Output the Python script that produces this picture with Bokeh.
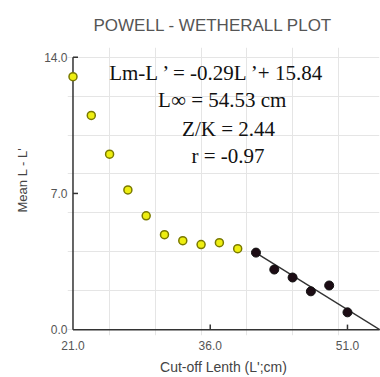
import math
from bokeh.plotting import figure
from bokeh.models import Range1d, FixedTicker, NumeralTickFormatter, Label, Title, LinearAxis
from bokeh.embed import file_html
from bokeh.resources import INLINE

# Data
yellow_x = [21, 23, 25, 27, 29, 31, 33, 35, 37, 39]
yellow_y = [13.0, 11.01, 9.02, 7.18, 5.85, 4.88, 4.57, 4.37, 4.47, 4.16]
black_x = [41, 43, 45, 47, 49, 51]
black_y = [3.96, 3.09, 2.68, 1.97, 2.27, 0.89]
fit_x = [41.0, 54.53]
fit_y = [3.95, 0.0]
x_ticks = [21, 36, 51]
y_ticks = [0, 7, 14]
x_min, x_max = 21, 54.5
y_min, y_max = 0, 14
title_text = "POWELL - WETHERALL PLOT"
x_title = "Cut-off Lenth (L';cm)"
y_title = "Mean L - L'"
annot_lines = ["Lm-L\u2009\u2019 = -0.29L\u2009\u2019+ 15.84",
               "L\u221e = 54.53 cm",
               "Z/K = 2.44",
               "r = -0.97"]

p = figure(width=380, height=377, output_backend="svg", toolbar_location=None,
           x_range=Range1d(20.4, 54.5), y_range=Range1d(-0.3, 14.5),
           x_axis_location=None, y_axis_location=None,
           min_border_left=66, min_border_right=1, min_border_top=47, min_border_bottom=41)
p.outline_line_color = None
p.background_fill_color = "white"
p.border_fill_color = "white"

AXIS_COL = "#333333"

def label_axis(ax, ticks):
    ax.ticker = FixedTicker(ticks=ticks)
    ax.formatter = NumeralTickFormatter(format="0.0")
    ax.axis_line_color = None
    ax.major_tick_line_color = None
    ax.minor_tick_line_color = None
    ax.major_tick_in = 0
    ax.major_tick_out = 0
    ax.major_label_text_font = "Liberation Sans"
    ax.major_label_text_font_size = "12px"
    ax.major_label_text_color = "#555555"

# tick-label axes
xl = LinearAxis()
label_axis(xl, x_ticks)
xl.major_label_standoff = 5
xl.axis_label = x_title
xl.axis_label_text_font = "Liberation Sans"
xl.axis_label_text_font_size = "14px"
xl.axis_label_text_font_style = "normal"
xl.axis_label_text_color = "#444444"
xl.axis_label_standoff = 6
p.add_layout(xl, "below")

yl = LinearAxis()
label_axis(yl, y_ticks)
yl.major_label_standoff = 0
p.add_layout(yl, "left")

# axis lines at x=21 / y=0, drawn as lines
p.line([x_min, x_min], [y_min, y_max], line_color=AXIS_COL, line_width=1.5, level="overlay")
p.line([x_min, x_max], [y_min, y_min], line_color=AXIS_COL, line_width=1.5, level="overlay")
# short inward tick marks (about 5 px long)
tick_dx = 0.55
tick_dy = 0.26
for yt in y_ticks[1:]:
    p.line([x_min, x_min + tick_dx], [yt, yt], line_color=AXIS_COL, line_width=1.5,
           level="overlay")
for xt in x_ticks[1:]:
    p.line([xt, xt], [y_min, y_min + tick_dy], line_color=AXIS_COL, line_width=1.5,
           level="overlay")

p.line(fit_x, fit_y, line_color="#333333", line_width=1.5, level="overlay")
p.scatter(yellow_x, yellow_y, size=8, fill_color="#eeee10", line_color="#7a7a00",
          line_width=1.5, level="overlay")
p.scatter(black_x, black_y, size=9, fill_color="#1c0c14", line_color="#111111",
          line_width=1, level="overlay")

label_specs = [(24.95, 13.17, "left"), (30.3, 11.79, "left"),
               (38.0, 10.32, "center"), (37.95, 8.94, "center")]
for t, (xx, yy, al) in zip(annot_lines, label_specs):
    p.add_layout(Label(x=xx, y=yy, text=t, text_font="Liberation Serif",
                       text_font_size="21px", text_color="#111111",
                       text_align=al, text_baseline="middle"))

p.add_layout(Title(text=title_text, align="left", text_font="Liberation Sans",
                   text_font_size="17px", text_font_style="normal",
                   text_color="#555555", offset=26, standoff=25), "above")

p.add_layout(Title(text=y_title, align="left", text_font="Liberation Sans",
                   text_font_size="13px", text_font_style="normal",
                   text_color="#444444", offset=123, standoff=24), "left")

open("out.html", "w").write(file_html(p, INLINE))
